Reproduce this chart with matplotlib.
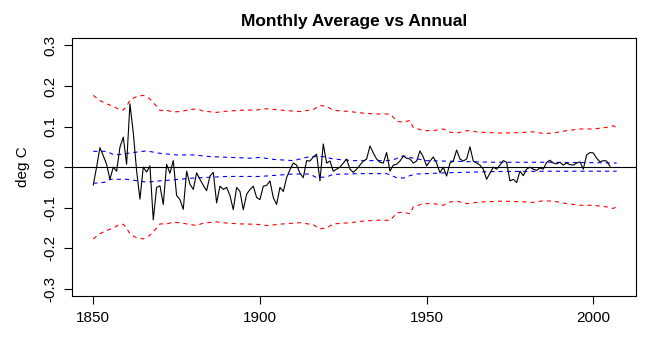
import matplotlib
matplotlib.use('Agg')
import matplotlib.pyplot as plt

# annual difference (black line), one value per year from 1850
start_year = 1850
diff = [
    -0.044, 0.000, 0.048, 0.028, 0.007, -0.030, 0.000, -0.010, 0.049, 0.074,
    0.007, 0.156, 0.085, -0.009, -0.079, 0.000, -0.012, 0.003, -0.130, -0.050,
    -0.046, -0.092, 0.007, -0.015, 0.016, -0.070, -0.080, -0.104, -0.010, -0.042,
    -0.055, -0.014, -0.030, -0.045, -0.058, -0.022, -0.013, -0.088, -0.047, -0.055,
    -0.050, -0.070, -0.105, -0.050, -0.060, -0.105, -0.067, -0.055, -0.047, -0.075,
    -0.080, -0.047, -0.045, -0.034, -0.075, -0.092, -0.050, -0.060, -0.026, -0.006,
    0.010, 0.005, -0.015, -0.026, 0.016, 0.015, 0.025, 0.032, -0.034, 0.057,
    0.010, 0.015, -0.010, -0.005, 0.000, 0.010, 0.020, -0.005, -0.013, -0.005,
    0.005, 0.015, 0.020, 0.052, 0.035, 0.020, 0.012, 0.010, 0.036, -0.010,
    0.005, 0.007, 0.015, 0.027, 0.022, 0.020, 0.010, 0.015, 0.040, 0.025,
    0.003, 0.015, 0.025, 0.010, -0.014, 0.000, -0.022, 0.010, 0.015, 0.042,
    0.020, 0.015, 0.020, 0.050, 0.015, 0.010, 0.005, -0.005, -0.030, -0.015,
    0.000, -0.005, 0.005, 0.016, 0.012, -0.034, -0.030, -0.038, -0.010, -0.021,
    -0.005, 0.000, -0.005, -0.008, -0.002, -0.005, 0.012, 0.017, 0.010, 0.008,
    0.012, 0.005, 0.010, 0.006, 0.005, 0.010, 0.013, -0.005, 0.030, 0.036,
    0.035, 0.022, 0.013, 0.016, 0.015, 0.002,
]
years = list(range(start_year, start_year + len(diff)))

# red envelope (upper; lower is its mirror)
red_years = [1850, 1852, 1854, 1856, 1858, 1859, 1860, 1861, 1863, 1865,
             1867, 1869, 1870, 1872, 1874, 1876, 1878, 1881, 1883, 1887,
             1890, 1894, 1899, 1902, 1907, 1912, 1916, 1918, 1920, 1922,
             1927, 1931, 1935, 1939, 1940, 1941, 1943, 1945, 1946, 1949,
             1952, 1955, 1957, 1959, 1962, 1966, 1972, 1978, 1982, 1985,
             1988, 1992, 1996, 2000, 2004, 2006, 2007]
red_upper = [0.177, 0.164, 0.156, 0.150, 0.141, 0.141, 0.150, 0.165, 0.174, 0.177,
             0.168, 0.150, 0.140, 0.140, 0.136, 0.137, 0.140, 0.144, 0.138, 0.135,
             0.138, 0.140, 0.141, 0.144, 0.140, 0.137, 0.142, 0.152, 0.150, 0.140,
             0.137, 0.133, 0.131, 0.131, 0.123, 0.113, 0.111, 0.115, 0.098, 0.090,
             0.090, 0.094, 0.086, 0.084, 0.090, 0.086, 0.084, 0.085, 0.087, 0.083,
             0.084, 0.090, 0.094, 0.094, 0.098, 0.102, 0.097]

# blue envelope
blue_up_years = [1850, 1854, 1856, 1858, 1862, 1866, 1868, 1870, 1875, 1880,
                 1885, 1897, 1900, 1904, 1910, 1915, 1919, 1922, 1928, 1938,
                 1940, 1943, 1946, 1950, 1960, 1970, 1985, 2000, 2007]
blue_upper = [0.039, 0.039, 0.031, 0.031, 0.036, 0.040, 0.037, 0.034, 0.030, 0.030,
              0.026, 0.022, 0.024, 0.019, 0.016, 0.026, 0.026, 0.020, 0.016, 0.016,
              0.018, 0.028, 0.022, 0.016, 0.014, 0.012, 0.012, 0.011, 0.010]
blue_lo_years = [1850, 1854, 1855, 1860, 1866, 1870, 1880, 1890, 1900, 1910,
                 1915, 1917, 1920, 1922, 1930, 1938, 1941, 1943, 1945, 1947,
                 1956, 1970, 1990, 2007]
blue_lower = [-0.040, -0.037, -0.030, -0.030, -0.037, -0.034, -0.027, -0.023, -0.023, -0.017,
              -0.017, -0.026, -0.024, -0.018, -0.016, -0.016, -0.026, -0.027, -0.021, -0.017,
              -0.014, -0.011, -0.010, -0.010]

xticks = [1850, 1900, 1950, 2000]
yticks = [-0.3, -0.2, -0.1, 0.0, 0.1, 0.2, 0.3]

plt.rcParams['font.family'] = ['Liberation Sans', 'DejaVu Sans']
plt.rcParams['lines.scale_dashes'] = False

fig = plt.figure(figsize=(6.57, 3.5), dpi=100)
ax = fig.add_axes([0.110, 0.154, 0.858, 0.737])

dash = (0, (3.0, 2.9))
lw = 0.8
ax.plot(red_years, red_upper, color='red', lw=lw, linestyle=dash)
ax.plot(red_years, [-v for v in red_upper], color='red', lw=lw, linestyle=dash)
ax.plot(blue_up_years, blue_upper, color='blue', lw=lw, linestyle=dash)
ax.plot(blue_lo_years, blue_lower, color='blue', lw=lw, linestyle=dash)
ax.plot(years, diff, color='black', lw=lw)
ax.axhline(0, color='black', lw=lw)

ax.set_xlim(1843.7, 2012.8)
ax.set_ylim(-0.318, 0.318)
ax.set_xticks(xticks)
ax.set_xticklabels([str(x) for x in xticks], fontsize=11)
ax.set_yticks(yticks)
ax.set_yticklabels([f'{v:.1f}' for v in yticks], fontsize=11, rotation=90, va='center')
ax.tick_params(direction='out', length=5.5, width=0.8, pad=5)
for s in ax.spines.values():
    s.set_linewidth(0.8)

ax.set_ylabel('deg C', fontsize=11, labelpad=10)
ax.set_title('Monthly Average vs Annual', fontsize=12.5, fontweight='bold', pad=9)

fig.savefig('out.png', dpi=100)
